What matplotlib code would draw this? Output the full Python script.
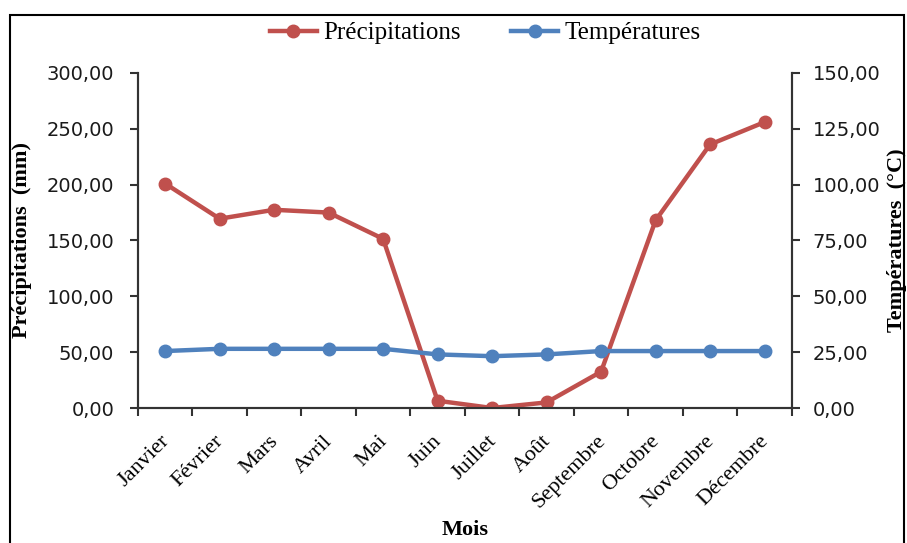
import matplotlib
matplotlib.use("Agg")
import matplotlib.pyplot as plt
from matplotlib.patches import Rectangle
from matplotlib.ticker import FuncFormatter
import matplotlib.transforms as mtransforms

mois = ["Janvier", "Février", "Mars", "Avril", "Mai", "Juin", "Juillet",
        "Août", "Septembre", "Octobre", "Novembre", "Décembre"]
precipitations = [201.0, 169.5, 177.5, 175.0, 151.5, 6.5, 0.0, 5.0,
                  32.5, 168.0, 236.0, 256.0]
temperatures = [25.5, 26.5, 26.5, 26.5, 26.5, 24.0, 23.2, 24.0,
                25.5, 25.5, 25.5, 25.5]

rouge = "#C0504D"
bleu = "#4F81BD"
serif = "Liberation Serif"

fig = plt.figure(figsize=(9.07, 5.43), dpi=100)
ax = fig.add_axes([0.152, 0.2486, 0.721, 0.617])
ax2 = ax.twinx()

x = list(range(len(mois)))
l1, = ax.plot(x, precipitations, color=rouge, lw=3.2, marker="o", ms=9,
              label="Précipitations", zorder=3)
l2, = ax2.plot(x, temperatures, color=bleu, lw=3.2, marker="o", ms=9,
               label="Températures", zorder=3)

ax.set_xlim(-0.5, len(mois) - 0.5)
ax.set_ylim(0, 300)
ax2.set_ylim(0, 150)
ax.set_yticks(range(0, 301, 50))
ax2.set_yticks(range(0, 151, 25))

fmt = FuncFormatter(lambda v, p: f"{v:.2f}".replace(".", ","))
ax.yaxis.set_major_formatter(fmt)
ax2.yaxis.set_major_formatter(fmt)

# category boundaries carry the tick marks, centres carry the labels
ax.set_xticks([i - 0.5 for i in range(len(mois) + 1)])
ax.set_xticklabels([])
ax.set_xticks(x, minor=True)
ax.set_xticklabels(mois, minor=True, rotation=45, ha="right", va="center",
                   rotation_mode="anchor", family=serif, fontsize=16)
ax.tick_params(axis="x", which="minor", length=0, pad=22)
offset = mtransforms.ScaledTranslation(1 / 72, 0, fig.dpi_scale_trans)
for lab in ax.get_xticklabels(minor=True):
    lab.set_transform(lab.get_transform() + offset)

spine_col = "#333333"
for a in (ax, ax2):
    a.spines["top"].set_visible(False)
    for s in ("left", "right", "bottom"):
        a.spines[s].set_color(spine_col)
        a.spines[s].set_linewidth(1.5)
ax.tick_params(axis="x", which="major", direction="out", length=6,
               width=1.5, color=spine_col)
ax.tick_params(axis="y", direction="out", length=6, width=1.5,
               color=spine_col, labelsize=14, pad=11)
ax2.tick_params(axis="y", direction="out", length=6, width=1.5,
                color=spine_col, labelsize=14, pad=9)
for lab in ax.get_yticklabels() + ax2.get_yticklabels():
    lab.set_family("DejaVu Sans")
    lab.set_color("#1a1a1a")

ax.set_xlabel("Mois", family=serif, fontweight="bold", fontsize=16,
              labelpad=0)
ax.xaxis.set_label_coords(0.5, -0.335)
ax.set_ylabel("Précipitations  (mm)", family=serif, fontweight="bold",
              fontsize=16)
ax.yaxis.set_label_coords(-0.162, 0.5)
ax2.set_ylabel("Températures  (°C)", family=serif, fontweight="bold",
               fontsize=16, rotation=90)
ax2.yaxis.set_label_coords(1.146, 0.5)

fig.legend(handles=[l1, l2], loc="center", bbox_to_anchor=(0.535, 0.939),
           ncol=2, frameon=False, prop={"family": serif, "size": 18},
           handlelength=1.9, handletextpad=0.25, columnspacing=2.0)

fig.patches.append(Rectangle((10 / 907, -0.01), 894 / 907, 1 - 15 / 543 + 0.01,
                             transform=fig.transFigure, fill=False,
                             edgecolor="black", lw=1.5))

fig.savefig("out.png", dpi=100)
